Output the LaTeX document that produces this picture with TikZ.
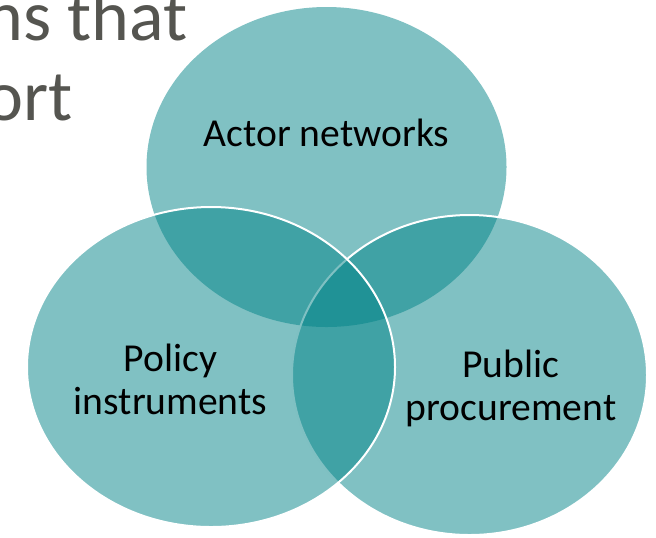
\documentclass[tikz,border=0pt]{standalone}
\usepackage{fontspec}
\setmainfont{Carlito}
\definecolor{vennteal}{RGB}{1,131,135}
\definecolor{titlegray}{RGB}{85,85,80}
\begin{document}
\begin{tikzpicture}[x=0.5pt, y=-0.5pt,
    set/.style={fill=vennteal, fill opacity=0.5},
    outlined set/.style={set, draw=white, line width=1pt},
    set label/.style={font=\fontsize{19.8}{21.5}\selectfont, align=center, anchor=base, inner sep=0pt, text=black},
    title text/.style={font=\fontsize{36}{40}\selectfont, anchor=base east, inner sep=0pt, text=titlegray}]

    \useasboundingbox (0,0) rectangle (656,537);
    \clip (0,0) rectangle (656,537);

    % Title lines, cut off at the left
    \node[title text] (title1) at (188,40) {ns that};
    \node[title text] (title2) at (73,120) {ort};

    % The three sets
    \path[set] (326.5,167) ellipse [x radius=180, y radius=160];
    \path[outlined set] (469.5,375) ellipse [x radius=177.5, y radius=160];
    \path[outlined set] (211,367) ellipse [x radius=184, y radius=160];

    % Labels (base is the last line)
    \node[set label] (actors) at (326.5,146) {Actor networks};
    \node[set label] (policy) at (170.5,414) {Policy\\instruments};
    \node[set label] (public) at (511,420) {Public\\procurement};

\end{tikzpicture}
\end{document}
